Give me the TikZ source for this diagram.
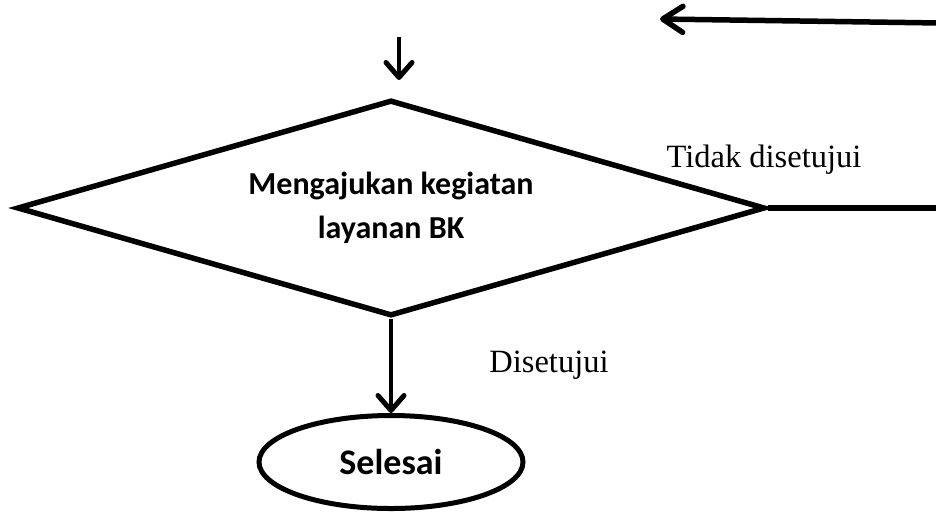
\documentclass[tikz,border=0pt]{standalone}
\usepackage{fontspec}
\setmainfont{Liberation Serif}
\newfontfamily\calfont{Carlito}
\usetikzlibrary{shapes.geometric,arrows.meta}
\tikzset{
  decision/.style={draw, diamond, line width=5.5pt, inner sep=0pt,
    shape aspect=3.46, minimum width=748pt, minimum height=216pt,
    font=\calfont\bfseries\fontsize{32}{44}\selectfont, align=center},
  terminal/.style={draw, ellipse, line width=5pt, inner sep=0pt,
    minimum width=264pt, minimum height=93pt,
    font=\calfont\bfseries\fontsize{36}{40}\selectfont},
  flow/.style={line width=4.5pt, -{Straight Barb[length=15pt,width=26pt,line width=5pt,round]}},
  flowb/.style={line width=5.5pt, -{Straight Barb[length=20pt,width=26pt,line width=5.5pt,round]}},
  plain/.style={line width=5.5pt},
  lbl/.style={font=\fontsize{32.5}{36}\selectfont, inner sep=0pt}
}
\begin{document}
\begin{tikzpicture}[x=1pt,y=-1pt]
\useasboundingbox (0,0) rectangle (936,512);
\node[decision] (dec) at (391,208) {Mengajukan kegiatan\\layanan BK};
\node[terminal] (end) at (391,462) {Selesai};
\coordinate (inTop) at (399,37);
\coordinate (inTip) at (399,80);
\coordinate (retStart) at (940,23);
\coordinate (retTip) at (660,19);
\coordinate (rightEnd) at (940,208);
\draw[flow] (inTop) -- (inTip);
\draw[flowb] (retStart) -- (retTip);
\draw[plain] (dec.east) -- (rightEnd);
\draw[flow] (dec.south) -- (end.north);
\node[lbl] (tidak) at (764,160) {Tidak disetujui};
\node[lbl] (setuju) at (549,365) {Disetujui};
\end{tikzpicture}
\end{document}
